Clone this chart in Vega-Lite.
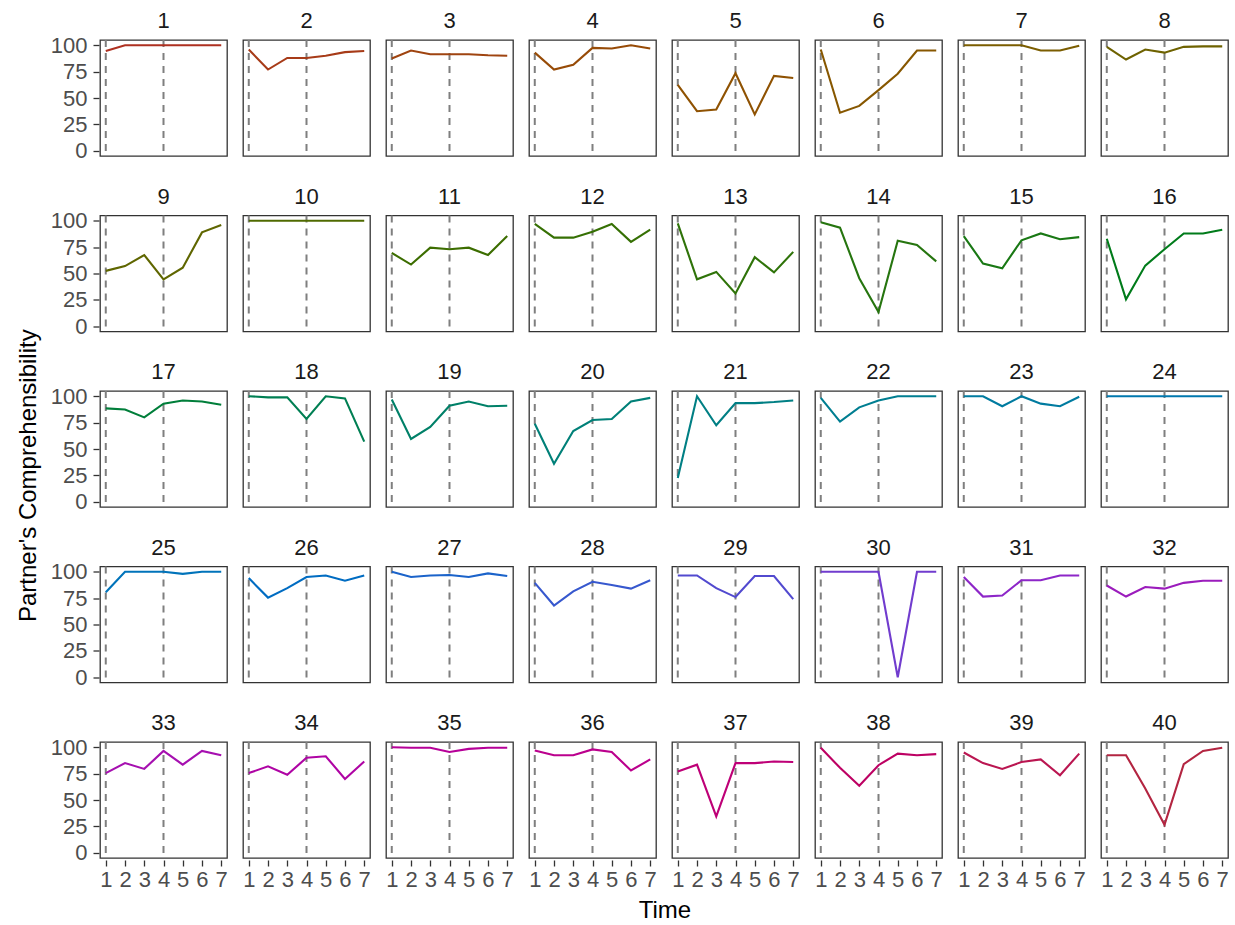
{
 "$schema": "https://vega.github.io/schema/vega-lite/v6.json",
 "padding": {"left": 17, "top": 9, "right": 2, "bottom": 2},
 "background": "white",
 "datasets": {"d": [
{"id":1,"t":1,"y":94.5},{"id":1,"t":2,"y":100},{"id":1,"t":3,"y":100},{"id":1,"t":4,"y":100},{"id":1,"t":5,"y":100},{"id":1,"t":6,"y":100},{"id":1,"t":7,"y":100},
{"id":2,"t":1,"y":96},{"id":2,"t":2,"y":77},{"id":2,"t":3,"y":88},{"id":2,"t":4,"y":88},{"id":2,"t":5,"y":90},{"id":2,"t":6,"y":93.5},{"id":2,"t":7,"y":94.5},
{"id":3,"t":1,"y":87.5},{"id":3,"t":2,"y":95},{"id":3,"t":3,"y":91.5},{"id":3,"t":4,"y":91.5},{"id":3,"t":5,"y":91.5},{"id":3,"t":6,"y":90.5},{"id":3,"t":7,"y":90},
{"id":4,"t":1,"y":93},{"id":4,"t":2,"y":77},{"id":4,"t":3,"y":81.5},{"id":4,"t":4,"y":97.5},{"id":4,"t":5,"y":97},{"id":4,"t":6,"y":100},{"id":4,"t":7,"y":97},
{"id":5,"t":1,"y":62.5},{"id":5,"t":2,"y":37.5},{"id":5,"t":3,"y":39},{"id":5,"t":4,"y":73.5},{"id":5,"t":5,"y":34.5},{"id":5,"t":6,"y":71},{"id":5,"t":7,"y":69},
{"id":6,"t":1,"y":96},{"id":6,"t":2,"y":36},{"id":6,"t":3,"y":42.5},{"id":6,"t":4,"y":57.5},{"id":6,"t":5,"y":73},{"id":6,"t":6,"y":95},{"id":6,"t":7,"y":95},
{"id":7,"t":1,"y":100},{"id":7,"t":2,"y":100},{"id":7,"t":3,"y":100},{"id":7,"t":4,"y":100},{"id":7,"t":5,"y":95},{"id":7,"t":6,"y":95},{"id":7,"t":7,"y":99.5},
{"id":8,"t":1,"y":98.5},{"id":8,"t":2,"y":86.5},{"id":8,"t":3,"y":96},{"id":8,"t":4,"y":93},{"id":8,"t":5,"y":98.5},{"id":8,"t":6,"y":99},{"id":8,"t":7,"y":99},
{"id":9,"t":1,"y":52.5},{"id":9,"t":2,"y":57},{"id":9,"t":3,"y":67.5},{"id":9,"t":4,"y":44.5},{"id":9,"t":5,"y":55.5},{"id":9,"t":6,"y":89},{"id":9,"t":7,"y":96},
{"id":10,"t":1,"y":100},{"id":10,"t":2,"y":100},{"id":10,"t":3,"y":100},{"id":10,"t":4,"y":100},{"id":10,"t":5,"y":100},{"id":10,"t":6,"y":100},{"id":10,"t":7,"y":100},
{"id":11,"t":1,"y":69.5},{"id":11,"t":2,"y":58.5},{"id":11,"t":3,"y":74.5},{"id":11,"t":4,"y":73},{"id":11,"t":5,"y":74.5},{"id":11,"t":6,"y":67.5},{"id":11,"t":7,"y":85.5},
{"id":12,"t":1,"y":97},{"id":12,"t":2,"y":84},{"id":12,"t":3,"y":84},{"id":12,"t":4,"y":89.5},{"id":12,"t":5,"y":97},{"id":12,"t":6,"y":80},{"id":12,"t":7,"y":91.5},
{"id":13,"t":1,"y":97.5},{"id":13,"t":2,"y":44.5},{"id":13,"t":3,"y":51.5},{"id":13,"t":4,"y":31},{"id":13,"t":5,"y":65.5},{"id":13,"t":6,"y":51},{"id":13,"t":7,"y":70.5},
{"id":14,"t":1,"y":98.5},{"id":14,"t":2,"y":93.5},{"id":14,"t":3,"y":45.5},{"id":14,"t":4,"y":13.5},{"id":14,"t":5,"y":81},{"id":14,"t":6,"y":77},{"id":14,"t":7,"y":61.5},
{"id":15,"t":1,"y":85.5},{"id":15,"t":2,"y":59.5},{"id":15,"t":3,"y":55},{"id":15,"t":4,"y":81.5},{"id":15,"t":5,"y":88},{"id":15,"t":6,"y":82.5},{"id":15,"t":7,"y":84.5},
{"id":16,"t":1,"y":83},{"id":16,"t":2,"y":25.5},{"id":16,"t":3,"y":57.5},{"id":16,"t":4,"y":73},{"id":16,"t":5,"y":88},{"id":16,"t":6,"y":88},{"id":16,"t":7,"y":91.5},
{"id":17,"t":1,"y":88.5},{"id":17,"t":2,"y":87.5},{"id":17,"t":3,"y":80},{"id":17,"t":4,"y":93},{"id":17,"t":5,"y":96},{"id":17,"t":6,"y":95},{"id":17,"t":7,"y":92},
{"id":18,"t":1,"y":100},{"id":18,"t":2,"y":99},{"id":18,"t":3,"y":99},{"id":18,"t":4,"y":78.5},{"id":18,"t":5,"y":100},{"id":18,"t":6,"y":98},{"id":18,"t":7,"y":57},
{"id":19,"t":1,"y":97},{"id":19,"t":2,"y":59.5},{"id":19,"t":3,"y":71},{"id":19,"t":4,"y":91},{"id":19,"t":5,"y":95},{"id":19,"t":6,"y":90.5},{"id":19,"t":7,"y":91},
{"id":20,"t":1,"y":74},{"id":20,"t":2,"y":36},{"id":20,"t":3,"y":67},{"id":20,"t":4,"y":77.5},{"id":20,"t":5,"y":78.5},{"id":20,"t":6,"y":95},{"id":20,"t":7,"y":98.5},
{"id":21,"t":1,"y":22.5},{"id":21,"t":2,"y":100},{"id":21,"t":3,"y":72.5},{"id":21,"t":4,"y":93.5},{"id":21,"t":5,"y":93.5},{"id":21,"t":6,"y":94.5},{"id":21,"t":7,"y":96},
{"id":22,"t":1,"y":98.5},{"id":22,"t":2,"y":76},{"id":22,"t":3,"y":89.5},{"id":22,"t":4,"y":96},{"id":22,"t":5,"y":100},{"id":22,"t":6,"y":100},{"id":22,"t":7,"y":100},
{"id":23,"t":1,"y":100},{"id":23,"t":2,"y":100},{"id":23,"t":3,"y":90.5},{"id":23,"t":4,"y":100},{"id":23,"t":5,"y":93},{"id":23,"t":6,"y":90.5},{"id":23,"t":7,"y":99.5},
{"id":24,"t":1,"y":100},{"id":24,"t":2,"y":100},{"id":24,"t":3,"y":100},{"id":24,"t":4,"y":100},{"id":24,"t":5,"y":100},{"id":24,"t":6,"y":100},{"id":24,"t":7,"y":100},
{"id":25,"t":1,"y":80.5},{"id":25,"t":2,"y":100},{"id":25,"t":3,"y":100},{"id":25,"t":4,"y":100},{"id":25,"t":5,"y":98},{"id":25,"t":6,"y":100},{"id":25,"t":7,"y":100},
{"id":26,"t":1,"y":94},{"id":26,"t":2,"y":75.5},{"id":26,"t":3,"y":84.5},{"id":26,"t":4,"y":95},{"id":26,"t":5,"y":96.5},{"id":26,"t":6,"y":91.5},{"id":26,"t":7,"y":96.5},
{"id":27,"t":1,"y":100},{"id":27,"t":2,"y":95},{"id":27,"t":3,"y":96.5},{"id":27,"t":4,"y":97},{"id":27,"t":5,"y":95},{"id":27,"t":6,"y":98.5},{"id":27,"t":7,"y":96},
{"id":28,"t":1,"y":89.5},{"id":28,"t":2,"y":68},{"id":28,"t":3,"y":81.5},{"id":28,"t":4,"y":90.5},{"id":28,"t":5,"y":87.5},{"id":28,"t":6,"y":84},{"id":28,"t":7,"y":92},
{"id":29,"t":1,"y":96.5},{"id":29,"t":2,"y":96.5},{"id":29,"t":3,"y":84.5},{"id":29,"t":4,"y":76},{"id":29,"t":5,"y":96},{"id":29,"t":6,"y":96},{"id":29,"t":7,"y":74},
{"id":30,"t":1,"y":100},{"id":30,"t":2,"y":100},{"id":30,"t":3,"y":100},{"id":30,"t":4,"y":100},{"id":30,"t":5,"y":0},{"id":30,"t":6,"y":100},{"id":30,"t":7,"y":100},
{"id":31,"t":1,"y":95},{"id":31,"t":2,"y":76.5},{"id":31,"t":3,"y":77.5},{"id":31,"t":4,"y":92},{"id":31,"t":5,"y":92},{"id":31,"t":6,"y":96.5},{"id":31,"t":7,"y":96.5},
{"id":32,"t":1,"y":87},{"id":32,"t":2,"y":76.5},{"id":32,"t":3,"y":85.5},{"id":32,"t":4,"y":84},{"id":32,"t":5,"y":89.5},{"id":32,"t":6,"y":91.5},{"id":32,"t":7,"y":91.5},
{"id":33,"t":1,"y":75.5},{"id":33,"t":2,"y":85},{"id":33,"t":3,"y":79.5},{"id":33,"t":4,"y":96.5},{"id":33,"t":5,"y":83.5},{"id":33,"t":6,"y":96.5},{"id":33,"t":7,"y":92.5},
{"id":34,"t":1,"y":75.5},{"id":34,"t":2,"y":82},{"id":34,"t":3,"y":74},{"id":34,"t":4,"y":90},{"id":34,"t":5,"y":91.5},{"id":34,"t":6,"y":70},{"id":34,"t":7,"y":86.5},
{"id":35,"t":1,"y":100},{"id":35,"t":2,"y":99.5},{"id":35,"t":3,"y":99.5},{"id":35,"t":4,"y":95.5},{"id":35,"t":5,"y":98.5},{"id":35,"t":6,"y":99.5},{"id":35,"t":7,"y":99.5},
{"id":36,"t":1,"y":97},{"id":36,"t":2,"y":92.5},{"id":36,"t":3,"y":92.5},{"id":36,"t":4,"y":98},{"id":36,"t":5,"y":95.5},{"id":36,"t":6,"y":78},{"id":36,"t":7,"y":88.5},
{"id":37,"t":1,"y":77},{"id":37,"t":2,"y":83.5},{"id":37,"t":3,"y":34.5},{"id":37,"t":4,"y":85},{"id":37,"t":5,"y":85},{"id":37,"t":6,"y":86.5},{"id":37,"t":7,"y":86},
{"id":38,"t":1,"y":99.5},{"id":38,"t":2,"y":80.5},{"id":38,"t":3,"y":63.5},{"id":38,"t":4,"y":83},{"id":38,"t":5,"y":94},{"id":38,"t":6,"y":92.5},{"id":38,"t":7,"y":93.5},
{"id":39,"t":1,"y":95},{"id":39,"t":2,"y":85},{"id":39,"t":3,"y":79.5},{"id":39,"t":4,"y":86},{"id":39,"t":5,"y":88.5},{"id":39,"t":6,"y":73.5},{"id":39,"t":7,"y":94},
{"id":40,"t":1,"y":92.5},{"id":40,"t":2,"y":92.5},{"id":40,"t":3,"y":61},{"id":40,"t":4,"y":26.5},{"id":40,"t":5,"y":84},{"id":40,"t":6,"y":96.5},{"id":40,"t":7,"y":99.5}
 ]},
 "data": {"name": "d"},
 "title": {"text": "Time", "orient": "bottom", "anchor": "middle", "offset": 9, "dx": 42},
 "vconcat": [{
  "title": {"text": "Partner's Comprehensibility", "orient": "left", "anchor": "middle", "offset": 9, "dx": -26},
  "facet": {"field": "id", "type": "ordinal", "header": {"title": null, "labelFontSize": 22, "labelFont": "Liberation Sans", "labelColor": "#1a1a1a", "labelPadding": 6}},
  "columns": 8,
  "spacing": {"row": 26.5, "column": 14},
  "spec": {
   "width": 127,
   "height": 116,
   "layer": [
    {
     "transform": [{"filter": "datum.t == 1 || datum.t == 4"}],
     "mark": {"type": "rule", "color": "#7f7f7f", "strokeDash": [7, 6], "strokeWidth": 2},
     "encoding": {"x": {"field": "t", "type": "quantitative", "title": null, "axis": {"values": [1, 2, 3, 4, 5, 6, 7], "labelPadding": 3, "labelFlush": false, "labelOverlap": false}}}
    },
    {
     "mark": {"type": "line", "strokeWidth": 2.1},
     "encoding": {
      "x": {"field": "t", "type": "quantitative", "title": null, "scale": {"domain": [0.7, 7.3], "nice": false, "zero": false}, "axis": {"values": [1, 2, 3, 4, 5, 6, 7], "labelPadding": 3, "labelFlush": false, "labelOverlap": false}},
      "y": {"field": "y", "type": "quantitative", "title": null, "scale": {"domain": [-5, 105], "nice": false, "zero": false}, "axis": {"values": [0, 25, 50, 75, 100], "labelPadding": 6}},
      "color": {"field": "id", "type": "quantitative", "legend": null, "scale": {"domain": [1, 6, 11, 16, 21, 26, 29, 31, 36, 40], "range": ["#AE3121", "#875700", "#3C6D00", "#007B1A", "#007F84", "#006CC2", "#524ACF", "#8D26C8", "#BB008D", "#B32541"], "interpolate": "hcl"}}
     }
    }
   ]
  }
 }],
 "config": {
  "view": {"stroke": "#333333", "strokeWidth": 1.3},
  "title": {"font": "Liberation Sans", "fontSize": 24, "fontWeight": "normal", "color": "#000000"},
  "axis": {"grid": false, "domain": false, "tickColor": "#333333", "tickSize": 6, "tickWidth": 1.3, "labelColor": "#4d4d4d", "labelFontSize": 22, "labelFont": "Liberation Sans"},
  "axisX": {"labelOverlap": false, "labelSeparation": 0}
 }
}
